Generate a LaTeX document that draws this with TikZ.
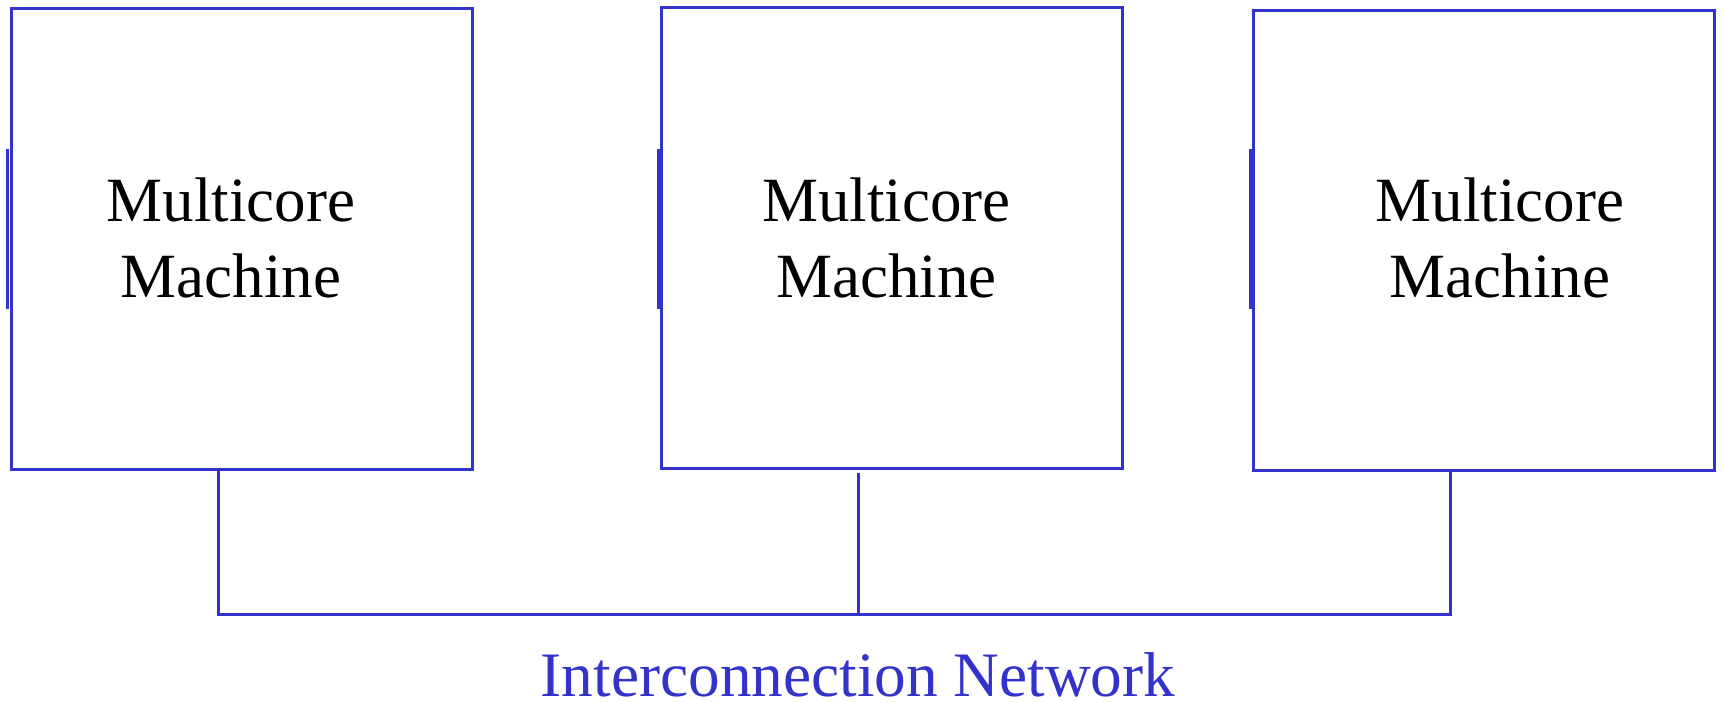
\documentclass[tikz,border=0pt]{standalone}
\usepackage{fontspec}
\setmainfont{Liberation Serif}
\usetikzlibrary{calc}
\definecolor{netblue}{HTML}{3333CC}
\begin{document}
\begin{tikzpicture}[x=1pt,y=-1pt,
  machine/.style={draw=netblue,line width=3pt,minimum width=461pt,minimum height=460pt,inner sep=0pt},
  mlabel/.style={align=center,inner sep=0pt,font=\fontsize{63}{76}\selectfont},
  wire/.style={draw=netblue,line width=3pt},
  port/.style={draw=netblue,line width=3pt},
  netlabel/.style={text=netblue,inner sep=0pt,anchor=base,font=\fontsize{63.3}{76}\selectfont}]
\useasboundingbox (0,0) rectangle (1723,701);

% the three machines
\node[machine] (m1) at (241.5,239) {};
\node[machine] (m2) at (892,238) {};
\node[machine] (m3) at (1483.5,240.5) {};

\node[mlabel] (t1) at (231,238) {Multicore\\Machine};
\node[mlabel] (t2) at (886.5,238) {Multicore\\Machine};
\node[mlabel] (t3) at (1500,238) {Multicore\\Machine};

% short ports on the left side of each machine
\draw[port] ($(m1.north west)+(-2,141)$) -- ++(0,160);
\draw[port] ($(m2.north west)+(-1.5,142)$) -- ++(0,160);
\draw[port] ($(m3.north west)+(-1.5,140)$) -- ++(0,160);

% shared bus
\coordinate (busL) at (218,614);
\coordinate (tap) at (858,614);
\coordinate (busR) at (1450,614);
\draw[wire] (busL |- m1.south) -- (busL) -- (busR) -- (busR |- m3.south);
\draw[wire] ([yshift=-3pt]tap |- m2.south) -- (tap);

\node[netlabel] (net) at (858,696) {Interconnection Network};
\end{tikzpicture}
\end{document}
